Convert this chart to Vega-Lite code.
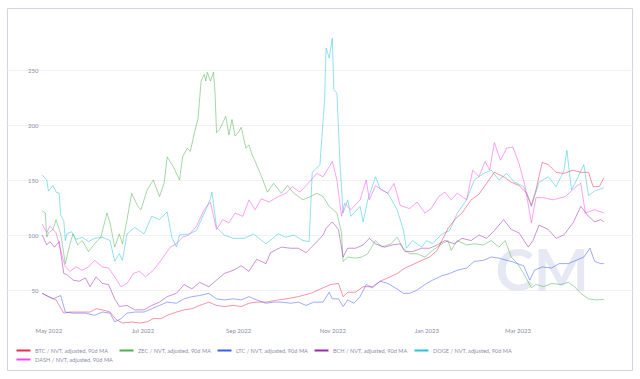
{
"$schema": "https://vega.github.io/schema/vega-lite/v6.json",
"width": 625,
"height": 362,
"autosize": {"type": "none"},
"padding": {"left": 7, "top": 8, "right": 8, "bottom": 9},
"background": "white",
"config": {"font": "Lato", "view": {"stroke": "#d2d3e8", "strokeWidth": 1}},
"layer": [
{
"data": {"values": [{"t": "CM"}]},
"mark": {"type": "text", "fontSize": 58, "font": "Lato", "fontWeight": "bold", "color": "#e6e8f3", "align": "center", "baseline": "middle"},
"encoding": {
"x": {"datum": {"year": 2023, "month": 3, "date": 17}, "type": "temporal"},
"y": {"datum": 65, "type": "quantitative"},
"text": {"field": "t"}
}
},
{
"data": {"values": [
{"d":"2022-04-27","s":"DOGE","v":154.5},{"d":"2022-04-30","s":"DOGE","v":150},{"d":"2022-05-01","s":"DOGE","v":140},{"d":"2022-05-04","s":"DOGE","v":145},{"d":"2022-05-06","s":"DOGE","v":139},{"d":"2022-05-08","s":"DOGE","v":138},{"d":"2022-05-09","s":"DOGE","v":118},{"d":"2022-05-11","s":"DOGE","v":113},{"d":"2022-05-12","s":"DOGE","v":95},{"d":"2022-05-13","s":"DOGE","v":101},{"d":"2022-05-16","s":"DOGE","v":103},{"d":"2022-05-19","s":"DOGE","v":96},{"d":"2022-05-23","s":"DOGE","v":98},{"d":"2022-05-27","s":"DOGE","v":94},{"d":"2022-05-31","s":"DOGE","v":97},{"d":"2022-06-05","s":"DOGE","v":98},{"d":"2022-06-10","s":"DOGE","v":95},{"d":"2022-06-13","s":"DOGE","v":76},{"d":"2022-06-16","s":"DOGE","v":83},{"d":"2022-06-18","s":"DOGE","v":77},{"d":"2022-06-21","s":"DOGE","v":101},{"d":"2022-06-26","s":"DOGE","v":107},{"d":"2022-07-02","s":"DOGE","v":101},{"d":"2022-07-07","s":"DOGE","v":117},{"d":"2022-07-12","s":"DOGE","v":114},{"d":"2022-07-17","s":"DOGE","v":121},{"d":"2022-07-20","s":"DOGE","v":98},{"d":"2022-07-23","s":"DOGE","v":89},{"d":"2022-07-25","s":"DOGE","v":100},{"d":"2022-07-31","s":"DOGE","v":101},{"d":"2022-08-05","s":"DOGE","v":104},{"d":"2022-08-10","s":"DOGE","v":120},{"d":"2022-08-14","s":"DOGE","v":133},{"d":"2022-08-15","s":"DOGE","v":139},{"d":"2022-08-18","s":"DOGE","v":107},{"d":"2022-08-23","s":"DOGE","v":100},{"d":"2022-08-29","s":"DOGE","v":97},{"d":"2022-09-05","s":"DOGE","v":97},{"d":"2022-09-11","s":"DOGE","v":101},{"d":"2022-09-19","s":"DOGE","v":92},{"d":"2022-09-27","s":"DOGE","v":101},{"d":"2022-10-02","s":"DOGE","v":98},{"d":"2022-10-07","s":"DOGE","v":100},{"d":"2022-10-13","s":"DOGE","v":95},{"d":"2022-10-17","s":"DOGE","v":94},{"d":"2022-10-19","s":"DOGE","v":157},{"d":"2022-10-22","s":"DOGE","v":161},{"d":"2022-10-24","s":"DOGE","v":164},{"d":"2022-10-27","s":"DOGE","v":223},{"d":"2022-10-28","s":"DOGE","v":270},{"d":"2022-10-30","s":"DOGE","v":261},{"d":"2022-11-01","s":"DOGE","v":279},{"d":"2022-11-02","s":"DOGE","v":232},{"d":"2022-11-04","s":"DOGE","v":229},{"d":"2022-11-06","s":"DOGE","v":165},{"d":"2022-11-08","s":"DOGE","v":120},{"d":"2022-11-11","s":"DOGE","v":132},{"d":"2022-11-13","s":"DOGE","v":117},{"d":"2022-11-19","s":"DOGE","v":126},{"d":"2022-11-21","s":"DOGE","v":112},{"d":"2022-11-24","s":"DOGE","v":132},{"d":"2022-11-29","s":"DOGE","v":153},{"d":"2022-12-02","s":"DOGE","v":142},{"d":"2022-12-07","s":"DOGE","v":138},{"d":"2022-12-13","s":"DOGE","v":123},{"d":"2022-12-17","s":"DOGE","v":105},{"d":"2022-12-19","s":"DOGE","v":88},{"d":"2022-12-23","s":"DOGE","v":95},{"d":"2022-12-29","s":"DOGE","v":89},{"d":"2023-01-01","s":"DOGE","v":95},{"d":"2023-01-05","s":"DOGE","v":92},{"d":"2023-01-11","s":"DOGE","v":101},{"d":"2023-01-16","s":"DOGE","v":104},{"d":"2023-01-21","s":"DOGE","v":120},{"d":"2023-01-27","s":"DOGE","v":132},{"d":"2023-02-01","s":"DOGE","v":150},{"d":"2023-02-07","s":"DOGE","v":156},{"d":"2023-02-12","s":"DOGE","v":159},{"d":"2023-02-17","s":"DOGE","v":150},{"d":"2023-02-22","s":"DOGE","v":156},{"d":"2023-02-27","s":"DOGE","v":148},{"d":"2023-03-05","s":"DOGE","v":144},{"d":"2023-03-10","s":"DOGE","v":126},{"d":"2023-03-15","s":"DOGE","v":148},{"d":"2023-03-21","s":"DOGE","v":153},{"d":"2023-03-26","s":"DOGE","v":144},{"d":"2023-03-31","s":"DOGE","v":158},{"d":"2023-04-02","s":"DOGE","v":177},{"d":"2023-04-05","s":"DOGE","v":141},{"d":"2023-04-09","s":"DOGE","v":152},{"d":"2023-04-13","s":"DOGE","v":164},{"d":"2023-04-16","s":"DOGE","v":136},{"d":"2023-04-20","s":"DOGE","v":140},{"d":"2023-04-26","s":"DOGE","v":143},
{"d":"2022-04-27","s":"ZEC","v":122},{"d":"2022-04-29","s":"ZEC","v":120},{"d":"2022-04-30","s":"ZEC","v":98},{"d":"2022-05-01","s":"ZEC","v":102},{"d":"2022-05-04","s":"ZEC","v":105},{"d":"2022-05-06","s":"ZEC","v":114},{"d":"2022-05-09","s":"ZEC","v":101},{"d":"2022-05-11","s":"ZEC","v":83},{"d":"2022-05-12","s":"ZEC","v":74},{"d":"2022-05-15","s":"ZEC","v":92},{"d":"2022-05-17","s":"ZEC","v":101},{"d":"2022-05-20","s":"ZEC","v":91},{"d":"2022-05-23","s":"ZEC","v":95},{"d":"2022-05-27","s":"ZEC","v":85},{"d":"2022-05-31","s":"ZEC","v":92},{"d":"2022-06-04","s":"ZEC","v":98},{"d":"2022-06-08","s":"ZEC","v":120},{"d":"2022-06-10","s":"ZEC","v":111},{"d":"2022-06-13","s":"ZEC","v":89},{"d":"2022-06-16","s":"ZEC","v":101},{"d":"2022-06-18","s":"ZEC","v":92},{"d":"2022-06-21","s":"ZEC","v":114},{"d":"2022-06-24","s":"ZEC","v":138},{"d":"2022-06-28","s":"ZEC","v":126},{"d":"2022-06-30","s":"ZEC","v":123},{"d":"2022-07-04","s":"ZEC","v":141},{"d":"2022-07-08","s":"ZEC","v":150},{"d":"2022-07-12","s":"ZEC","v":135},{"d":"2022-07-15","s":"ZEC","v":147},{"d":"2022-07-17","s":"ZEC","v":171},{"d":"2022-07-21","s":"ZEC","v":162},{"d":"2022-07-25","s":"ZEC","v":150},{"d":"2022-07-27","s":"ZEC","v":171},{"d":"2022-07-30","s":"ZEC","v":179},{"d":"2022-08-01","s":"ZEC","v":176},{"d":"2022-08-04","s":"ZEC","v":195},{"d":"2022-08-06","s":"ZEC","v":206},{"d":"2022-08-08","s":"ZEC","v":240},{"d":"2022-08-10","s":"ZEC","v":246},{"d":"2022-08-11","s":"ZEC","v":240},{"d":"2022-08-12","s":"ZEC","v":248},{"d":"2022-08-14","s":"ZEC","v":240},{"d":"2022-08-16","s":"ZEC","v":248},{"d":"2022-08-17","s":"ZEC","v":230},{"d":"2022-08-18","s":"ZEC","v":193},{"d":"2022-08-20","s":"ZEC","v":196},{"d":"2022-08-21","s":"ZEC","v":199},{"d":"2022-08-24","s":"ZEC","v":208},{"d":"2022-08-26","s":"ZEC","v":191},{"d":"2022-08-28","s":"ZEC","v":205},{"d":"2022-08-30","s":"ZEC","v":190},{"d":"2022-09-01","s":"ZEC","v":193},{"d":"2022-09-03","s":"ZEC","v":198},{"d":"2022-09-06","s":"ZEC","v":179},{"d":"2022-09-08","s":"ZEC","v":182},{"d":"2022-09-10","s":"ZEC","v":173},{"d":"2022-09-12","s":"ZEC","v":167},{"d":"2022-09-15","s":"ZEC","v":157},{"d":"2022-09-17","s":"ZEC","v":150},{"d":"2022-09-20","s":"ZEC","v":139},{"d":"2022-09-24","s":"ZEC","v":147},{"d":"2022-09-29","s":"ZEC","v":138},{"d":"2022-10-03","s":"ZEC","v":145},{"d":"2022-10-07","s":"ZEC","v":138},{"d":"2022-10-13","s":"ZEC","v":132},{"d":"2022-10-18","s":"ZEC","v":135},{"d":"2022-10-22","s":"ZEC","v":138},{"d":"2022-10-26","s":"ZEC","v":135},{"d":"2022-10-30","s":"ZEC","v":126},{"d":"2022-11-04","s":"ZEC","v":120},{"d":"2022-11-07","s":"ZEC","v":102},{"d":"2022-11-08","s":"ZEC","v":76},{"d":"2022-11-11","s":"ZEC","v":80},{"d":"2022-11-16","s":"ZEC","v":79},{"d":"2022-11-20","s":"ZEC","v":80},{"d":"2022-11-24","s":"ZEC","v":83},{"d":"2022-11-29","s":"ZEC","v":95},{"d":"2022-12-03","s":"ZEC","v":89},{"d":"2022-12-09","s":"ZEC","v":92},{"d":"2022-12-13","s":"ZEC","v":98},{"d":"2022-12-17","s":"ZEC","v":88},{"d":"2022-12-21","s":"ZEC","v":83},{"d":"2022-12-26","s":"ZEC","v":83},{"d":"2022-12-31","s":"ZEC","v":80},{"d":"2023-01-05","s":"ZEC","v":86},{"d":"2023-01-11","s":"ZEC","v":92},{"d":"2023-01-15","s":"ZEC","v":95},{"d":"2023-01-17","s":"ZEC","v":86},{"d":"2023-01-21","s":"ZEC","v":95},{"d":"2023-01-27","s":"ZEC","v":91},{"d":"2023-02-01","s":"ZEC","v":92},{"d":"2023-02-07","s":"ZEC","v":91},{"d":"2023-02-12","s":"ZEC","v":95},{"d":"2023-02-17","s":"ZEC","v":89},{"d":"2023-02-21","s":"ZEC","v":95},{"d":"2023-02-25","s":"ZEC","v":80},{"d":"2023-03-01","s":"ZEC","v":74},{"d":"2023-03-05","s":"ZEC","v":65},{"d":"2023-03-10","s":"ZEC","v":52},{"d":"2023-03-13","s":"ZEC","v":55},{"d":"2023-03-18","s":"ZEC","v":53},{"d":"2023-03-23","s":"ZEC","v":56},{"d":"2023-03-29","s":"ZEC","v":55},{"d":"2023-04-03","s":"ZEC","v":57},{"d":"2023-04-07","s":"ZEC","v":53},{"d":"2023-04-11","s":"ZEC","v":47},{"d":"2023-04-16","s":"ZEC","v":42},{"d":"2023-04-21","s":"ZEC","v":41},{"d":"2023-04-26","s":"ZEC","v":41.5},
{"d":"2022-04-27","s":"BTC","v":47},{"d":"2022-05-01","s":"BTC","v":44},{"d":"2022-05-06","s":"BTC","v":41},{"d":"2022-05-11","s":"BTC","v":29},{"d":"2022-05-15","s":"BTC","v":30},{"d":"2022-05-23","s":"BTC","v":30},{"d":"2022-05-28","s":"BTC","v":30},{"d":"2022-06-01","s":"BTC","v":33},{"d":"2022-06-05","s":"BTC","v":32},{"d":"2022-06-10","s":"BTC","v":30},{"d":"2022-06-14","s":"BTC","v":23},{"d":"2022-06-18","s":"BTC","v":20},{"d":"2022-06-24","s":"BTC","v":21},{"d":"2022-06-29","s":"BTC","v":20},{"d":"2022-07-04","s":"BTC","v":21},{"d":"2022-07-08","s":"BTC","v":24},{"d":"2022-07-13","s":"BTC","v":24},{"d":"2022-07-17","s":"BTC","v":27},{"d":"2022-07-23","s":"BTC","v":30},{"d":"2022-07-28","s":"BTC","v":32},{"d":"2022-08-02","s":"BTC","v":33},{"d":"2022-08-07","s":"BTC","v":36},{"d":"2022-08-13","s":"BTC","v":39},{"d":"2022-08-18","s":"BTC","v":36},{"d":"2022-08-23","s":"BTC","v":35},{"d":"2022-08-29","s":"BTC","v":36},{"d":"2022-09-03","s":"BTC","v":35},{"d":"2022-09-08","s":"BTC","v":38},{"d":"2022-09-13","s":"BTC","v":39},{"d":"2022-09-19","s":"BTC","v":39},{"d":"2022-09-27","s":"BTC","v":41},{"d":"2022-10-02","s":"BTC","v":42},{"d":"2022-10-10","s":"BTC","v":44},{"d":"2022-10-18","s":"BTC","v":47},{"d":"2022-10-26","s":"BTC","v":52},{"d":"2022-10-31","s":"BTC","v":55},{"d":"2022-11-05","s":"BTC","v":56},{"d":"2022-11-08","s":"BTC","v":44},{"d":"2022-11-11","s":"BTC","v":48},{"d":"2022-11-16","s":"BTC","v":48},{"d":"2022-11-21","s":"BTC","v":53},{"d":"2022-11-27","s":"BTC","v":53},{"d":"2022-12-02","s":"BTC","v":58},{"d":"2022-12-07","s":"BTC","v":61},{"d":"2022-12-13","s":"BTC","v":65},{"d":"2022-12-18","s":"BTC","v":70},{"d":"2022-12-23","s":"BTC","v":73},{"d":"2022-12-29","s":"BTC","v":77},{"d":"2023-01-03","s":"BTC","v":80},{"d":"2023-01-08","s":"BTC","v":86},{"d":"2023-01-11","s":"BTC","v":95},{"d":"2023-01-15","s":"BTC","v":106},{"d":"2023-01-20","s":"BTC","v":115},{"d":"2023-01-24","s":"BTC","v":120},{"d":"2023-01-30","s":"BTC","v":132},{"d":"2023-02-04","s":"BTC","v":137},{"d":"2023-02-09","s":"BTC","v":147},{"d":"2023-02-14","s":"BTC","v":157},{"d":"2023-02-20","s":"BTC","v":153},{"d":"2023-02-25","s":"BTC","v":148},{"d":"2023-03-02","s":"BTC","v":145},{"d":"2023-03-07","s":"BTC","v":138},{"d":"2023-03-10","s":"BTC","v":127},{"d":"2023-03-13","s":"BTC","v":141},{"d":"2023-03-17","s":"BTC","v":166},{"d":"2023-03-21","s":"BTC","v":164},{"d":"2023-03-26","s":"BTC","v":157},{"d":"2023-03-31","s":"BTC","v":156},{"d":"2023-04-06","s":"BTC","v":159},{"d":"2023-04-11","s":"BTC","v":157},{"d":"2023-04-16","s":"BTC","v":157},{"d":"2023-04-19","s":"BTC","v":144},{"d":"2023-04-23","s":"BTC","v":144},{"d":"2023-04-26","s":"BTC","v":152},
{"d":"2022-04-27","s":"LTC","v":47},{"d":"2022-05-04","s":"LTC","v":42},{"d":"2022-05-09","s":"LTC","v":45},{"d":"2022-05-12","s":"LTC","v":30},{"d":"2022-05-17","s":"LTC","v":29},{"d":"2022-05-25","s":"LTC","v":29},{"d":"2022-05-31","s":"LTC","v":27},{"d":"2022-06-05","s":"LTC","v":30},{"d":"2022-06-10","s":"LTC","v":29},{"d":"2022-06-13","s":"LTC","v":21},{"d":"2022-06-17","s":"LTC","v":24},{"d":"2022-06-21","s":"LTC","v":29},{"d":"2022-06-26","s":"LTC","v":30},{"d":"2022-07-02","s":"LTC","v":30},{"d":"2022-07-07","s":"LTC","v":33},{"d":"2022-07-12","s":"LTC","v":36},{"d":"2022-07-17","s":"LTC","v":39},{"d":"2022-07-23","s":"LTC","v":38},{"d":"2022-07-28","s":"LTC","v":42},{"d":"2022-08-02","s":"LTC","v":44},{"d":"2022-08-07","s":"LTC","v":45},{"d":"2022-08-13","s":"LTC","v":47},{"d":"2022-08-18","s":"LTC","v":42},{"d":"2022-08-23","s":"LTC","v":41},{"d":"2022-08-29","s":"LTC","v":42},{"d":"2022-09-03","s":"LTC","v":41},{"d":"2022-09-08","s":"LTC","v":44},{"d":"2022-09-13","s":"LTC","v":41},{"d":"2022-09-19","s":"LTC","v":38},{"d":"2022-09-24","s":"LTC","v":39},{"d":"2022-09-29","s":"LTC","v":39},{"d":"2022-10-05","s":"LTC","v":38},{"d":"2022-10-10","s":"LTC","v":39},{"d":"2022-10-15","s":"LTC","v":36},{"d":"2022-10-20","s":"LTC","v":39},{"d":"2022-10-26","s":"LTC","v":39},{"d":"2022-10-30","s":"LTC","v":48},{"d":"2022-11-01","s":"LTC","v":42},{"d":"2022-11-05","s":"LTC","v":42},{"d":"2022-11-08","s":"LTC","v":35},{"d":"2022-11-11","s":"LTC","v":41},{"d":"2022-11-15","s":"LTC","v":38},{"d":"2022-11-19","s":"LTC","v":44},{"d":"2022-11-23","s":"LTC","v":55},{"d":"2022-11-27","s":"LTC","v":52},{"d":"2022-12-02","s":"LTC","v":58},{"d":"2022-12-07","s":"LTC","v":56},{"d":"2022-12-13","s":"LTC","v":51},{"d":"2022-12-17","s":"LTC","v":47},{"d":"2022-12-21","s":"LTC","v":47},{"d":"2022-12-26","s":"LTC","v":50},{"d":"2022-12-31","s":"LTC","v":55},{"d":"2023-01-05","s":"LTC","v":59},{"d":"2023-01-11","s":"LTC","v":63},{"d":"2023-01-16","s":"LTC","v":65},{"d":"2023-01-21","s":"LTC","v":68},{"d":"2023-01-27","s":"LTC","v":70},{"d":"2023-02-01","s":"LTC","v":76},{"d":"2023-02-07","s":"LTC","v":77},{"d":"2023-02-12","s":"LTC","v":80},{"d":"2023-02-17","s":"LTC","v":79},{"d":"2023-02-22","s":"LTC","v":77},{"d":"2023-02-25","s":"LTC","v":76},{"d":"2023-03-05","s":"LTC","v":72},{"d":"2023-03-09","s":"LTC","v":59},{"d":"2023-03-12","s":"LTC","v":68},{"d":"2023-03-17","s":"LTC","v":71},{"d":"2023-03-23","s":"LTC","v":70},{"d":"2023-03-28","s":"LTC","v":74},{"d":"2023-04-03","s":"LTC","v":74},{"d":"2023-04-08","s":"LTC","v":77},{"d":"2023-04-13","s":"LTC","v":80},{"d":"2023-04-17","s":"LTC","v":88},{"d":"2023-04-20","s":"LTC","v":76},{"d":"2023-04-24","s":"LTC","v":74},{"d":"2023-04-26","s":"LTC","v":74},
{"d":"2022-04-27","s":"BCH","v":100},{"d":"2022-04-30","s":"BCH","v":91},{"d":"2022-05-02","s":"BCH","v":94},{"d":"2022-05-05","s":"BCH","v":89},{"d":"2022-05-08","s":"BCH","v":94},{"d":"2022-05-11","s":"BCH","v":65},{"d":"2022-05-13","s":"BCH","v":64},{"d":"2022-05-17","s":"BCH","v":59},{"d":"2022-05-21","s":"BCH","v":58},{"d":"2022-05-25","s":"BCH","v":61},{"d":"2022-05-28","s":"BCH","v":53},{"d":"2022-06-01","s":"BCH","v":62},{"d":"2022-06-05","s":"BCH","v":56},{"d":"2022-06-09","s":"BCH","v":55},{"d":"2022-06-13","s":"BCH","v":42},{"d":"2022-06-16","s":"BCH","v":35},{"d":"2022-06-21","s":"BCH","v":36},{"d":"2022-06-26","s":"BCH","v":32},{"d":"2022-07-02","s":"BCH","v":32},{"d":"2022-07-07","s":"BCH","v":36},{"d":"2022-07-12","s":"BCH","v":39},{"d":"2022-07-17","s":"BCH","v":44},{"d":"2022-07-23","s":"BCH","v":47},{"d":"2022-07-28","s":"BCH","v":55},{"d":"2022-08-02","s":"BCH","v":51},{"d":"2022-08-07","s":"BCH","v":57},{"d":"2022-08-13","s":"BCH","v":53},{"d":"2022-08-18","s":"BCH","v":59},{"d":"2022-08-23","s":"BCH","v":65},{"d":"2022-08-29","s":"BCH","v":68},{"d":"2022-09-03","s":"BCH","v":72},{"d":"2022-09-08","s":"BCH","v":67},{"d":"2022-09-13","s":"BCH","v":78},{"d":"2022-09-19","s":"BCH","v":74},{"d":"2022-09-22","s":"BCH","v":84},{"d":"2022-09-29","s":"BCH","v":89},{"d":"2022-10-05","s":"BCH","v":88},{"d":"2022-10-10","s":"BCH","v":88},{"d":"2022-10-15","s":"BCH","v":84},{"d":"2022-10-20","s":"BCH","v":91},{"d":"2022-10-26","s":"BCH","v":100},{"d":"2022-10-28","s":"BCH","v":106},{"d":"2022-11-01","s":"BCH","v":112},{"d":"2022-11-05","s":"BCH","v":105},{"d":"2022-11-08","s":"BCH","v":80},{"d":"2022-11-11","s":"BCH","v":88},{"d":"2022-11-16","s":"BCH","v":88},{"d":"2022-11-21","s":"BCH","v":91},{"d":"2022-11-25","s":"BCH","v":97},{"d":"2022-11-29","s":"BCH","v":92},{"d":"2022-12-05","s":"BCH","v":89},{"d":"2022-12-10","s":"BCH","v":91},{"d":"2022-12-15","s":"BCH","v":92},{"d":"2022-12-18","s":"BCH","v":85},{"d":"2022-12-23","s":"BCH","v":85},{"d":"2022-12-29","s":"BCH","v":88},{"d":"2023-01-03","s":"BCH","v":88},{"d":"2023-01-08","s":"BCH","v":91},{"d":"2023-01-13","s":"BCH","v":95},{"d":"2023-01-19","s":"BCH","v":92},{"d":"2023-01-24","s":"BCH","v":97},{"d":"2023-01-30","s":"BCH","v":95},{"d":"2023-02-04","s":"BCH","v":100},{"d":"2023-02-09","s":"BCH","v":97},{"d":"2023-02-14","s":"BCH","v":104},{"d":"2023-02-20","s":"BCH","v":114},{"d":"2023-02-25","s":"BCH","v":105},{"d":"2023-03-02","s":"BCH","v":102},{"d":"2023-03-08","s":"BCH","v":89},{"d":"2023-03-11","s":"BCH","v":95},{"d":"2023-03-15","s":"BCH","v":109},{"d":"2023-03-21","s":"BCH","v":105},{"d":"2023-03-26","s":"BCH","v":97},{"d":"2023-03-31","s":"BCH","v":100},{"d":"2023-04-06","s":"BCH","v":111},{"d":"2023-04-11","s":"BCH","v":126},{"d":"2023-04-16","s":"BCH","v":117},{"d":"2023-04-20","s":"BCH","v":112},{"d":"2023-04-24","s":"BCH","v":114},{"d":"2023-04-26","s":"BCH","v":112},
{"d":"2022-04-27","s":"DASH","v":110},{"d":"2022-04-30","s":"DASH","v":102},{"d":"2022-05-02","s":"DASH","v":108},{"d":"2022-05-06","s":"DASH","v":102},{"d":"2022-05-09","s":"DASH","v":86},{"d":"2022-05-12","s":"DASH","v":71},{"d":"2022-05-15","s":"DASH","v":67},{"d":"2022-05-19","s":"DASH","v":71},{"d":"2022-05-23","s":"DASH","v":68},{"d":"2022-05-27","s":"DASH","v":71},{"d":"2022-05-31","s":"DASH","v":77},{"d":"2022-06-05","s":"DASH","v":71},{"d":"2022-06-09","s":"DASH","v":70},{"d":"2022-06-13","s":"DASH","v":62},{"d":"2022-06-17","s":"DASH","v":53},{"d":"2022-06-21","s":"DASH","v":56},{"d":"2022-06-25","s":"DASH","v":65},{"d":"2022-06-29","s":"DASH","v":67},{"d":"2022-07-03","s":"DASH","v":62},{"d":"2022-07-08","s":"DASH","v":68},{"d":"2022-07-13","s":"DASH","v":77},{"d":"2022-07-19","s":"DASH","v":89},{"d":"2022-07-23","s":"DASH","v":92},{"d":"2022-07-27","s":"DASH","v":98},{"d":"2022-07-31","s":"DASH","v":100},{"d":"2022-08-05","s":"DASH","v":108},{"d":"2022-08-10","s":"DASH","v":123},{"d":"2022-08-14","s":"DASH","v":130},{"d":"2022-08-18","s":"DASH","v":105},{"d":"2022-08-22","s":"DASH","v":114},{"d":"2022-08-26","s":"DASH","v":111},{"d":"2022-08-30","s":"DASH","v":120},{"d":"2022-09-04","s":"DASH","v":117},{"d":"2022-09-08","s":"DASH","v":132},{"d":"2022-09-12","s":"DASH","v":123},{"d":"2022-09-16","s":"DASH","v":133},{"d":"2022-09-21","s":"DASH","v":130},{"d":"2022-09-27","s":"DASH","v":135},{"d":"2022-10-02","s":"DASH","v":138},{"d":"2022-10-06","s":"DASH","v":144},{"d":"2022-10-11","s":"DASH","v":139},{"d":"2022-10-17","s":"DASH","v":148},{"d":"2022-10-22","s":"DASH","v":156},{"d":"2022-10-26","s":"DASH","v":153},{"d":"2022-10-30","s":"DASH","v":162},{"d":"2022-11-01","s":"DASH","v":167},{"d":"2022-11-04","s":"DASH","v":150},{"d":"2022-11-07","s":"DASH","v":117},{"d":"2022-11-09","s":"DASH","v":129},{"d":"2022-11-13","s":"DASH","v":123},{"d":"2022-11-19","s":"DASH","v":132},{"d":"2022-11-23","s":"DASH","v":150},{"d":"2022-11-25","s":"DASH","v":132},{"d":"2022-11-29","s":"DASH","v":145},{"d":"2022-12-03","s":"DASH","v":141},{"d":"2022-12-07","s":"DASH","v":138},{"d":"2022-12-11","s":"DASH","v":147},{"d":"2022-12-15","s":"DASH","v":127},{"d":"2022-12-21","s":"DASH","v":124},{"d":"2022-12-26","s":"DASH","v":130},{"d":"2022-12-31","s":"DASH","v":120},{"d":"2023-01-04","s":"DASH","v":124},{"d":"2023-01-09","s":"DASH","v":135},{"d":"2023-01-13","s":"DASH","v":139},{"d":"2023-01-17","s":"DASH","v":132},{"d":"2023-01-21","s":"DASH","v":138},{"d":"2023-01-27","s":"DASH","v":132},{"d":"2023-01-31","s":"DASH","v":159},{"d":"2023-02-04","s":"DASH","v":153},{"d":"2023-02-08","s":"DASH","v":167},{"d":"2023-02-11","s":"DASH","v":159},{"d":"2023-02-14","s":"DASH","v":184},{"d":"2023-02-18","s":"DASH","v":168},{"d":"2023-02-22","s":"DASH","v":179},{"d":"2023-02-26","s":"DASH","v":180},{"d":"2023-03-02","s":"DASH","v":165},{"d":"2023-03-06","s":"DASH","v":144},{"d":"2023-03-10","s":"DASH","v":111},{"d":"2023-03-13","s":"DASH","v":134},{"d":"2023-03-18","s":"DASH","v":134},{"d":"2023-03-24","s":"DASH","v":132},{"d":"2023-04-01","s":"DASH","v":135},{"d":"2023-04-08","s":"DASH","v":144},{"d":"2023-04-11","s":"DASH","v":147},{"d":"2023-04-14","s":"DASH","v":120},{"d":"2023-04-20","s":"DASH","v":123},{"d":"2023-04-26","s":"DASH","v":120}
]},
"mark": {"type": "line", "strokeWidth": 1, "opacity": 0.5},
"encoding": {
"x": {"field": "d", "type": "temporal",
"scale": {"domain": [{"year": 2022, "month": 4, "date": 4, "hours": 5}, {"year": 2023, "month": 5, "date": 14, "hours": 5}]},
"axis": {"values": [{"year": 2022, "month": 5, "date": 1}, {"year": 2022, "month": 7, "date": 1}, {"year": 2022, "month": 9, "date": 1}, {"year": 2022, "month": 11, "date": 1}, {"year": 2023, "month": 1, "date": 1}, {"year": 2023, "month": 3, "date": 1}],
"format": "%b %Y", "title": null, "grid": false, "domain": false, "ticks": false, "offset": -45, "labelPadding": 2, "labelFontSize": 6, "labelColor": "#8a8ca8", "labelFont": "Lato"}},
"y": {"field": "v", "type": "quantitative",
"scale": {"domain": [-22.7, 306.4], "nice": false, "zero": false},
"axis": {"values": [50, 100, 150, 200, 250], "title": null, "grid": true, "gridColor": "#f1f1f6", "domain": false, "ticks": false, "offset": -33, "labelPadding": 2, "labelFontSize": 6, "labelColor": "#8a8ca8", "labelFont": "Lato"}},
"color": {"field": "s", "type": "nominal",
"scale": {"domain": ["BTC", "ZEC", "LTC", "BCH", "DOGE", "DASH"], "range": ["#f2294d", "#4caf50", "#3d5afe", "#9c27b0", "#22c4dc", "#ff44f0"]},
"legend": {"orient": "bottom-left", "offset": 6, "direction": "horizontal", "columns": 5, "gridAlign": "none", "title": null, "symbolType": "M-2,0H2", "symbolSize": 49, "symbolStrokeWidth": 2, "symbolOpacity": 1, "symbolOffset": 6, "labelFontSize": 5.6, "labelFont": "Lato", "labelColor": "#8d8fa8", "labelExpr": "datum.label + ' / NVT, adjusted, 90d MA'", "columnPadding": 2, "rowPadding": 0, "padding": 0, "labelOffset": 7}}
}
}
]
}
